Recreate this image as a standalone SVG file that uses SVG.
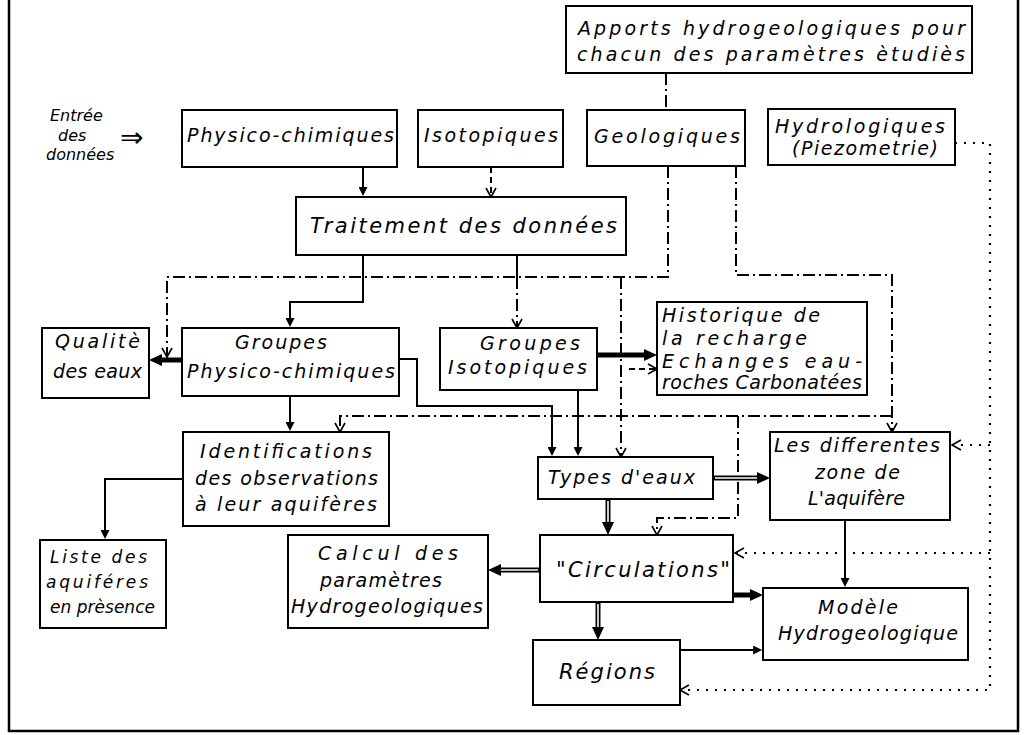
<svg xmlns="http://www.w3.org/2000/svg" width="1028" height="735" viewBox="0 0 1028 735">
<style>
.box{fill:#fff;stroke:#000;stroke-width:2}
.t{font-family:"DejaVu Sans",sans-serif;font-style:italic;font-size:19px;fill:#000}
.s{font-size:16px}
.m{font-size:17px}
.c{fill:none;stroke:#000;stroke-width:2}
.dd{stroke-dasharray:12 4 2 4}
.ds{stroke-dasharray:6 4}
.dot{stroke-dasharray:2 7;stroke-width:2.2}
.thick{stroke-width:5}
.w{fill:none;stroke:#fff;stroke-width:1.6}
</style>
<defs>
<marker id="ah" viewBox="0 0 10 10" markerWidth="10" markerHeight="9" markerUnits="userSpaceOnUse" refX="1" refY="5" orient="auto"><path d="M0,0 L10,5 L0,10 z" fill="#000"/></marker>
<marker id="ahb" viewBox="0 0 13 12" markerWidth="13" markerHeight="12" markerUnits="userSpaceOnUse" refX="1" refY="6" orient="auto"><path d="M0,0 L13,6 L0,12 z" fill="#000"/></marker>
<marker id="av" viewBox="-1 -1 12 12" markerWidth="12" markerHeight="12" markerUnits="userSpaceOnUse" refX="9" refY="5" orient="auto" overflow="visible"><path d="M0,0 L9,5 L0,10" fill="none" stroke="#000" stroke-width="1.6"/></marker>
</defs>
<path d="M9,0 V731 H1018 V0" fill="none" stroke="#000" stroke-width="2.5"/>
<g id="connectors">
<path class="c dd" d="M666,73 V110"/>
<path class="c" d="M363,167 V188" marker-end="url(#ah)"/>
<path class="c ds" d="M491,167 V197" marker-end="url(#av)"/>
<path class="c dd" d="M668,166 V277 H167 V357" marker-end="url(#av)"/>
<path class="c dd" d="M736,166 V275 H892 V432" marker-end="url(#av)"/>
<path class="c" d="M363,255 V302 H290 V319" marker-end="url(#ah)"/>
<path class="c" d="M517,255 V277"/>
<path class="c dd" d="M517,277 V328" marker-end="url(#av)"/>
<path class="c dd" d="M621,277 V457" marker-end="url(#av)"/>
<path class="c ds" d="M629,369 H657" marker-end="url(#av)"/>
<path class="c thick" d="M597,355 H645" marker-end="url(#ahb)"/>
<path class="c thick" d="M182,360 H161" marker-end="url(#ahb)"/>
<path class="c" d="M399,359 H417 V406 H552 V448" marker-end="url(#ah)"/>
<path class="c" d="M578,390 V448" marker-end="url(#ah)"/>
<path class="c" d="M290,396 V423" marker-end="url(#ah)"/>
<path class="c dd" d="M892,416 H340 V432" marker-end="url(#av)"/>
<path class="c dd" d="M738,416 V518 H657 V535" marker-end="url(#av)"/>
<path class="c" d="M183,479 H105 V531" marker-end="url(#ah)"/>
<path class="c thick" d="M713,478 H758" marker-end="url(#ahb)"/>
<path class="w" d="M715,478 H757"/>
<path class="c thick" d="M608,499 V523" marker-end="url(#ahb)"/>
<path class="w" d="M608,501 V522"/>
<path class="c thick" d="M540,570 H500" marker-end="url(#ahb)"/>
<path class="w" d="M538,570 H501"/>
<path class="c thick" d="M733,595 H751" marker-end="url(#ahb)"/>
<path class="c thick" d="M598,602 V628" marker-end="url(#ahb)"/>
<path class="w" d="M598,604 V627"/>
<path class="c" d="M680,650 H754" marker-end="url(#ah)"/>
<path class="c" d="M845,520 V579" marker-end="url(#ah)"/>
<path class="c dot" d="M955,143 H990 V690 H680" marker-end="url(#av)"/>
<path class="c dot" d="M990,445 H952" marker-end="url(#av)"/>
<path class="c dot" d="M990,553 H735" marker-end="url(#av)"/>
</g>
<g id="entree">
<text class="t s" x="50" y="121">Entrée</text>
<text class="t s" x="58" y="141">des</text>
<text class="t s" x="46" y="160">données</text>
<text x="120" y="147" style="font-family:'DejaVu Sans',sans-serif;font-size:28px">⇒</text>
</g>
<g id="apports"><rect class="box" x="566" y="6" width="406" height="67"/>
<text class="t" x="578" y="35" textLength="387">Apports hydrogeologiques pour</text>
<text class="t" x="577" y="61" textLength="388">chacun des paramètres ètudiès</text></g>
<g id="physico"><rect class="box" x="182" y="110" width="215" height="57"/>
<text class="t" x="187" y="142" textLength="207">Physico-chimiques</text></g>
<g id="isotopiques"><rect class="box" x="418" y="110" width="145" height="57"/>
<text class="t" x="424" y="142" textLength="134">Isotopiques</text></g>
<g id="geologiques"><rect class="box" x="587" y="110" width="158" height="56"/>
<text class="t" x="594" y="143" textLength="146">Geologiques</text></g>
<g id="hydrologiques"><rect class="box" x="768" y="109" width="187" height="56"/>
<text class="t" x="775" y="133" textLength="170">Hydrologiques</text>
<text class="t" x="792" y="155" textLength="146">(Piezometrie)</text></g>
<g id="traitement"><rect class="box" x="296" y="197" width="330" height="58"/>
<text class="t" x="310" y="233" textLength="307" style="font-size:21px">Traitement des données</text></g>
<g id="qualite"><rect class="box" x="42" y="328" width="107" height="70"/>
<text class="t" x="55" y="348" textLength="85">Qualitè</text>
<text class="t" x="53" y="378" textLength="89">des eaux</text></g>
<g id="groupes-pc"><rect class="box" x="182" y="328" width="217" height="68"/>
<text class="t" x="235" y="349" textLength="92">Groupes</text>
<text class="t" x="187" y="378" textLength="208">Physico-chimiques</text></g>
<g id="groupes-iso"><rect class="box" x="440" y="328" width="157" height="62"/>
<text class="t" x="480" y="350" textLength="100">Groupes</text>
<text class="t" x="448" y="374" textLength="139">Isotopiques</text></g>
<g id="historique"><rect class="box" x="657" y="302" width="210" height="93"/>
<text class="t" x="662" y="322" textLength="158">Historique de</text>
<text class="t" x="662" y="345" textLength="145">la recharge</text>
<text class="t" x="662" y="368" textLength="200">Echanges eau-</text>
<text class="t" x="662" y="389" textLength="200">roches Carbonatées</text></g>
<g id="identifications"><rect class="box" x="183" y="432" width="206" height="94"/>
<text class="t" x="200" y="458" textLength="172">Identifications</text>
<text class="t" x="195" y="485" textLength="183">des observations</text>
<text class="t" x="195" y="511" textLength="182">à leur aquifères</text></g>
<g id="types"><rect class="box" x="538" y="457" width="175" height="42"/>
<text class="t" x="548" y="484" textLength="147">Types d'eaux</text></g>
<g id="zones"><rect class="box" x="770" y="432" width="180" height="88"/>
<text class="t" x="774" y="452" textLength="166">Les differentes</text>
<text class="t" x="815" y="479" textLength="85">zone de</text>
<text class="t" x="808" y="505" textLength="97">L'aquifère</text></g>
<g id="liste"><rect class="box" x="40" y="540" width="126" height="88"/>
<text class="t m" x="50" y="563" textLength="97">Liste des</text>
<text class="t m" x="46" y="588" textLength="102">aquiféres</text>
<text class="t m" x="50" y="613" textLength="105">en prèsence</text></g>
<g id="calcul"><rect class="box" x="288" y="535" width="200" height="93"/>
<text class="t" x="318" y="560" textLength="140">Calcul des</text>
<text class="t" x="320" y="587" textLength="122">paramètres</text>
<text class="t" x="291" y="613" textLength="192">Hydrogeologiques</text></g>
<g id="circulations"><rect class="box" x="540" y="535" width="193" height="67"/>
<text class="t" x="556" y="577" textLength="174" style="font-size:21px">"Circulations"</text></g>
<g id="modele"><rect class="box" x="763" y="588" width="205" height="72"/>
<text class="t" x="818" y="614" textLength="80">Modèle</text>
<text class="t" x="778" y="640" textLength="180">Hydrogeologique</text></g>
<g id="regions"><rect class="box" x="533" y="640" width="147" height="65"/>
<text class="t" x="559" y="679" textLength="96" style="font-size:21px">Régions</text></g>
</svg>
